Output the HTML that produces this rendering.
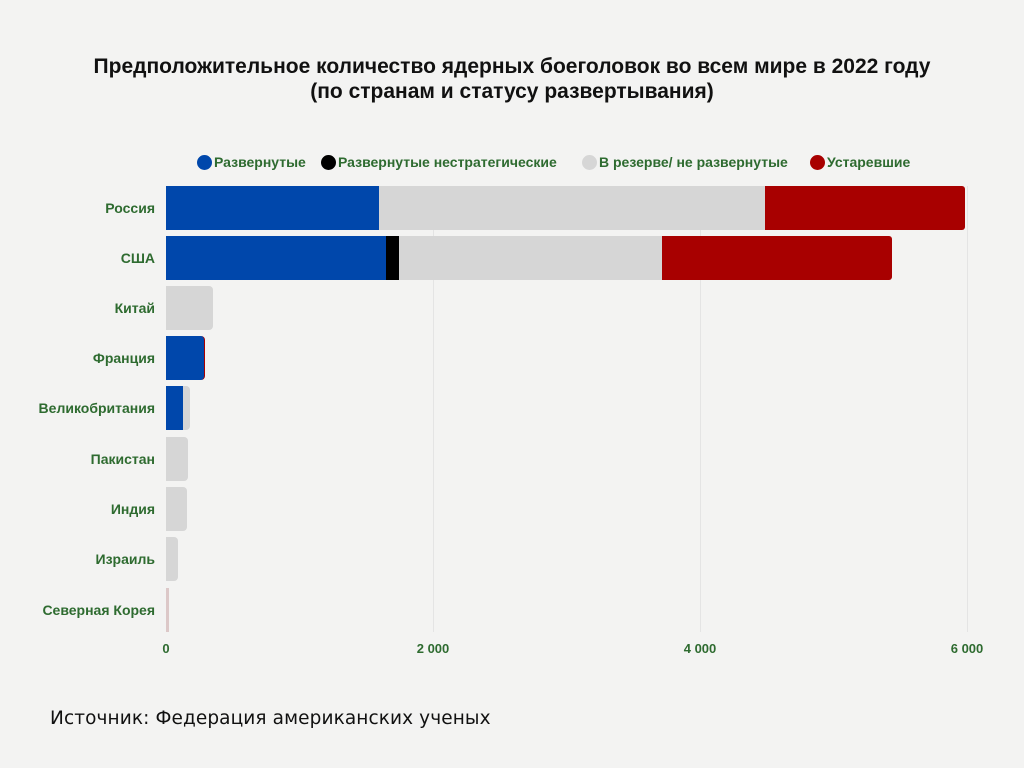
<!DOCTYPE html>
<html><head><meta charset="utf-8"><style>
body{margin:0;width:1024px;height:768px;background:#f3f3f2;position:relative;overflow:hidden;font-family:"Liberation Sans",sans-serif}
.t{position:absolute;left:0;width:1024px;text-align:center;font-weight:bold;font-size:21px;color:#111;letter-spacing:0px}
.lab{position:absolute;right:869px;font-weight:bold;font-size:14px;color:#2e6b30;text-align:right;white-space:nowrap}
.b{position:absolute;height:44px}
.g{position:absolute;top:186px;height:446px;width:1px;background:#e4e4e4}
.x{position:absolute;top:641px;font-weight:bold;font-size:13px;color:#2e6b30;transform:translateX(-50%)}
.lg{position:absolute;top:154px;font-weight:bold;font-size:14px;color:#2e6b30;white-space:nowrap}
.dot{display:inline-block;width:15px;height:15px;border-radius:50%;vertical-align:-3px;margin-right:2px}
</style></head><body>
<div class="t" style="top:55px">Предположительное количество ядерных боеголовок во всем мире в 2022 году</div>
<div class="t" style="top:80px">(по странам и статусу развертывания)</div>
<div class="lg" style="left:197px"><span class="dot" style="background:#0047ab"></span>Развернутые</div>
<div class="lg" style="left:321px"><span class="dot" style="background:#000"></span>Развернутые нестратегические</div>
<div class="lg" style="left:582px"><span class="dot" style="background:#d6d6d6"></span>В резерве/ не развернутые</div>
<div class="lg" style="left:810px"><span class="dot" style="background:#a80000"></span>Устаревшие</div>
<div class="g" style="left:433px"></div><div class="g" style="left:700px"></div><div class="g" style="left:967px"></div>
<div class="b" style="top:186px;left:166px;width:213px;background:#0047ab"></div>
<div class="b" style="top:186px;left:379px;width:386px;background:#d6d6d6"></div>
<div class="b" style="top:186px;left:765px;width:200px;background:#a80000;border-radius:0 3px 3px 0"></div>
<div class="b" style="top:236px;left:166px;width:220px;background:#0047ab"></div>
<div class="b" style="top:236px;left:386px;width:13px;background:#000"></div>
<div class="b" style="top:236px;left:399px;width:263px;background:#d6d6d6"></div>
<div class="b" style="top:236px;left:662px;width:230px;background:#a80000;border-radius:0 3px 3px 0"></div>
<div class="b" style="top:286px;left:166px;width:47px;background:#d6d6d6;border-radius:0 4px 4px 0"></div>
<div class="b" style="top:336px;left:166px;width:38px;background:#0047ab;border-radius:0 4px 4px 0;border-right:1px solid #a80000"></div>
<div class="b" style="top:386px;left:166px;width:24px;background:#d6d6d6;border-radius:0 4px 4px 0"></div>
<div class="b" style="top:386px;left:166px;width:17px;background:#0047ab"></div>
<div class="b" style="top:437px;left:166px;width:22px;background:#d6d6d6;border-radius:0 4px 4px 0"></div>
<div class="b" style="top:487px;left:166px;width:21px;background:#d6d6d6;border-radius:0 4px 4px 0"></div>
<div class="b" style="top:537px;left:166px;width:12px;background:#d6d6d6;border-radius:0 4px 4px 0"></div>
<div class="b" style="top:588px;left:166px;width:3px;background:#dcc8c8"></div>
<div class="lab" style="top:200px">Россия</div>
<div class="lab" style="top:250px">США</div>
<div class="lab" style="top:300px">Китай</div>
<div class="lab" style="top:350px">Франция</div>
<div class="lab" style="top:400px">Великобритания</div>
<div class="lab" style="top:451px">Пакистан</div>
<div class="lab" style="top:501px">Индия</div>
<div class="lab" style="top:551px">Израиль</div>
<div class="lab" style="top:602px">Северная Корея</div>
<div class="x" style="left:166px">0</div>
<div class="x" style="left:433px">2 000</div>
<div class="x" style="left:700px">4 000</div>
<div class="x" style="left:967px">6 000</div>
<div style="position:absolute;left:50px;top:708px;font-family:'DejaVu Sans',sans-serif;font-size:18.5px;letter-spacing:0.1px;color:#111">Источник: Федерация американских ученых</div>
</body></html>
